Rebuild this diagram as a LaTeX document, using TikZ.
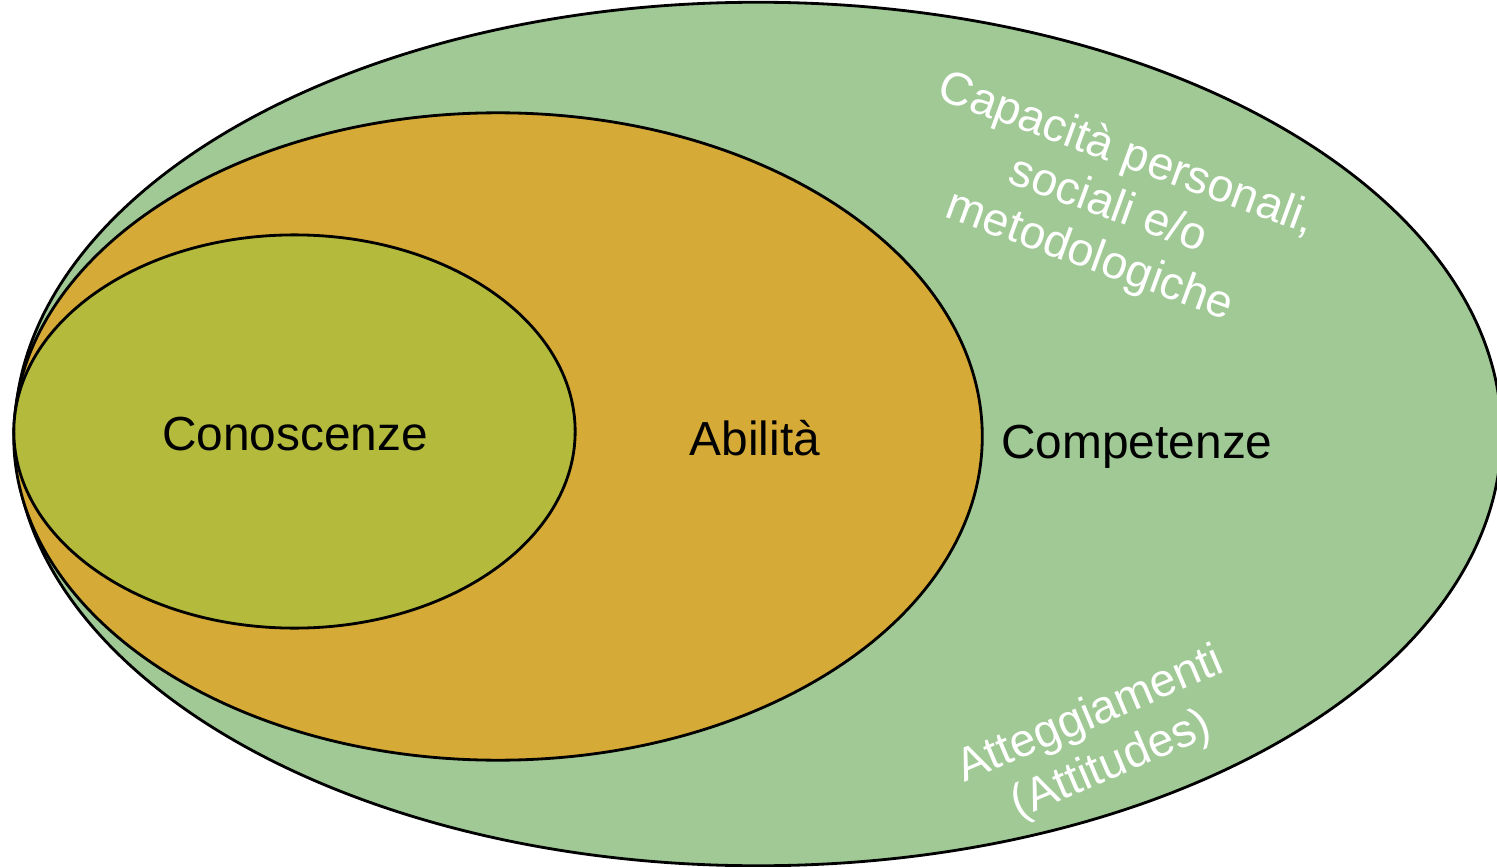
\documentclass[tikz,border=0pt]{standalone}
\usepackage{fontspec}
\setmainfont{Liberation Sans}
\usetikzlibrary{shapes.geometric}
\definecolor{compgreen}{RGB}{160,201,149}
\definecolor{abilgold}{RGB}{214,170,54}
\definecolor{conolive}{RGB}{180,186,60}
\begin{document}
\begin{tikzpicture} [x=0.01cm,y=-0.01cm,
    setstyle/.style={ellipse,draw=black,line width=0.8pt,inner sep=0pt},
    bigtext/.style={anchor=base,font=\fontsize{13.6}{16}\selectfont},
    softtext/.style={white,align=center,font=\fontsize{13.2}{15.4}\selectfont}]
  \useasboundingbox (0,0) rectangle (1497,867);

  % nested sets
  \node [setstyle,fill=compgreen,minimum width=14.86cm,minimum height=8.63cm] (competenze) at (758,434) {};
  \node [setstyle,fill=abilgold,minimum width=9.68cm,minimum height=6.47cm] (abilita) at (498,436.5) {};
  \node [setstyle,fill=conolive,minimum width=5.61cm,minimum height=3.93cm] (conoscenze) at (294.5,431.5) {};

  % labels
  \node [bigtext] (lconoscenze) at (295,450) {Conoscenze};
  \node [bigtext] (labilita) at (755,455) {Abilità};
  \node [bigtext] (lcompetenze) at (1137,458) {Competenze};

  %\node [softtext] at (1107,206) {Capacità};
  \node [softtext,rotate=-20] (capacita) at (1108,206) {Capacità personali,\\sociali e/o\\metodologiche};
  \node [softtext,rotate=23] (atteggiamenti) at (1101,741) {Atteggiamenti\\(Attitudes)};

\end{tikzpicture}
\end{document}
